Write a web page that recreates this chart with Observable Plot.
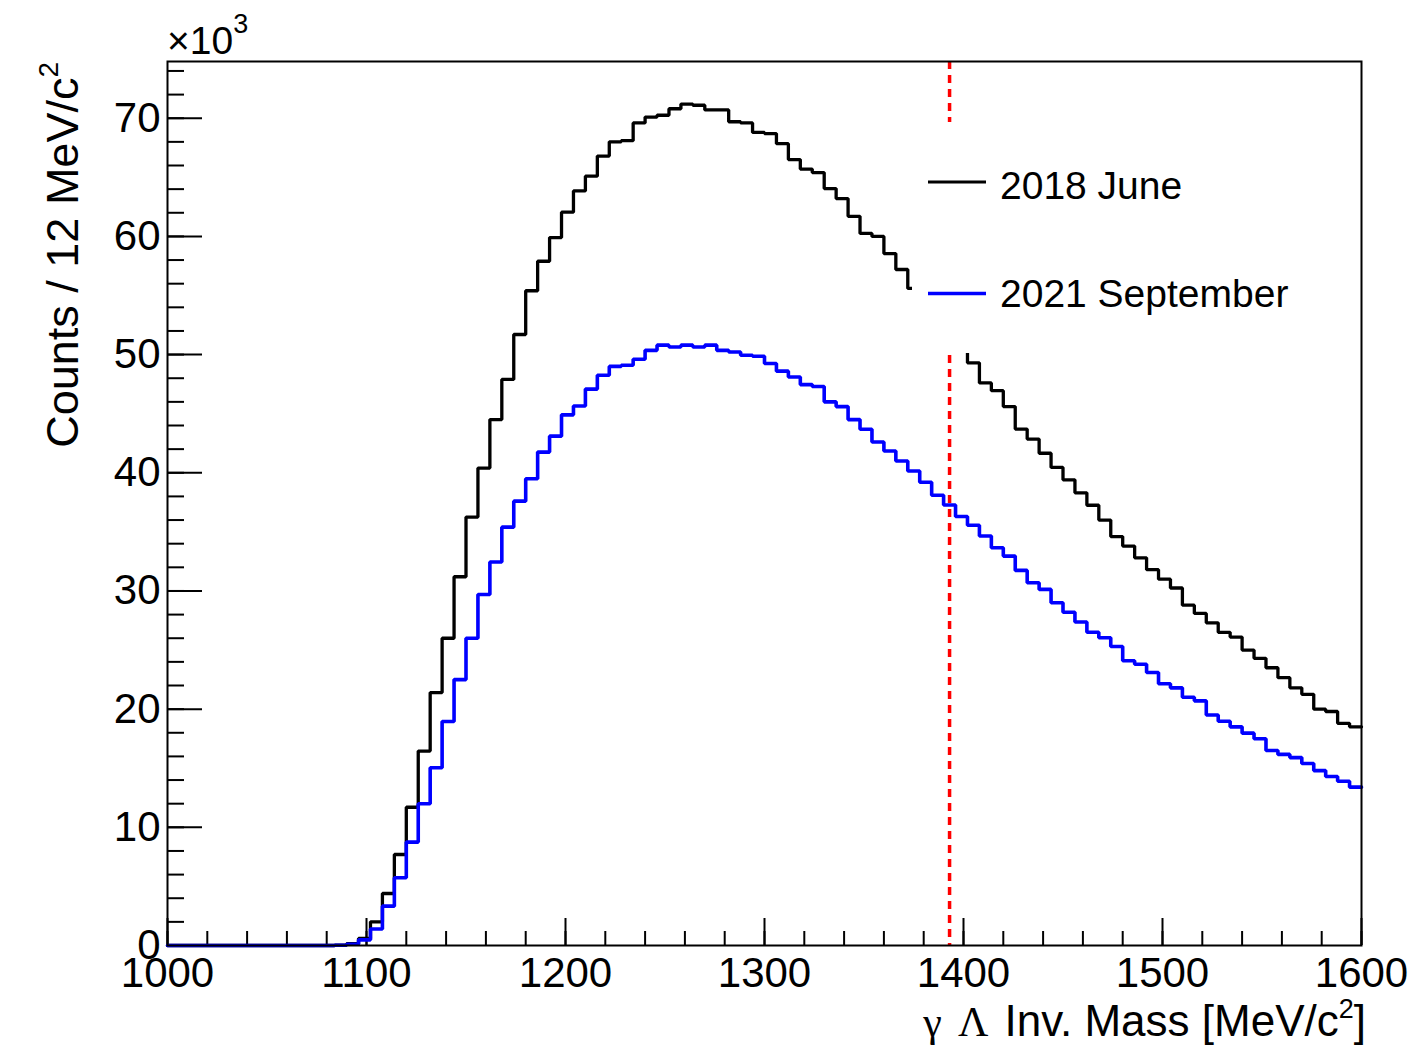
<!DOCTYPE html>
<html>
<head>
<meta charset="utf-8">
<script src="https://cdn.jsdelivr.net/npm/d3@7"></script>
<script src="https://cdn.jsdelivr.net/npm/@observablehq/plot@0.6"></script>
<style>
  body { margin: 0; background: #fff; }
  #wrap { position: relative; width: 1424px; height: 1048px; background: #fff; }
  #wrap > svg { position: absolute; left: 0; top: 0; }
  #overlay { pointer-events: none; font-family: "Liberation Sans", Arial, Helvetica, sans-serif; }
</style>
</head>
<body>
<div id="wrap"></div>
<script>
// ---- data (counts in units of 10^3 per bin) ----
const massRange = [1000, 1600];
const binWidth = 6;
const june2018 = [
  0, 0, 0, 0, 0, 0, 0, 0, 0, 0,
  0, 0, 0, 0, 0.03, 0.15, 0.6, 2.0, 4.4, 7.7,
  11.7, 16.45, 21.4, 26.0, 31.2, 36.25, 40.4, 44.5, 47.9, 51.7,
  55.4, 57.9, 59.9, 62.05, 63.85, 65.1, 66.8, 68.0, 68.1, 69.6,
  70.1, 70.25, 70.8, 71.2, 71.1, 70.7, 70.7, 69.7, 69.6, 68.8,
  68.7, 67.85, 66.5, 65.7, 65.4, 64.05, 63.2, 61.7, 60.25, 60.0,
  58.55, 57.2, 55.6, 54.4, 53.2, 52.0, 50.7, 49.3, 47.6, 46.95,
  45.6, 43.7, 42.85, 41.65, 40.45, 39.4, 38.3, 37.25, 36.0, 34.6,
  33.8, 32.8, 31.8, 31.0, 30.25, 28.8, 28.1, 27.3, 26.5, 26.1,
  25.0, 24.3, 23.5, 22.66, 21.8, 21.25, 20.0, 19.8, 18.8, 18.5
];
const sept2021 = [
  0, 0, 0, 0, 0, 0, 0, 0, 0, 0,
  0, 0, 0, 0, 0.02, 0.1, 0.48, 1.4, 3.33, 5.73,
  8.75, 12.0, 15.04, 18.96, 22.5, 26.0, 29.7, 32.45, 35.4, 37.6,
  39.5, 41.75, 43.1, 44.9, 45.65, 47.08, 48.25, 49.0, 49.1, 49.6,
  50.36, 50.8, 50.64, 50.8, 50.64, 50.8, 50.36, 50.22, 49.94, 49.86,
  49.24, 48.6, 48.1, 47.46, 47.3, 46.0, 45.6, 44.5, 43.68, 42.6,
  41.84, 41.0, 40.15, 39.2, 38.1, 37.27, 36.3, 35.56, 34.65, 33.66,
  32.95, 31.74, 30.7, 30.13, 29.0, 28.2, 27.37, 26.5, 26.04, 25.3,
  24.1, 23.8, 23.1, 22.15, 21.8, 21.0, 20.7, 19.5, 18.98, 18.5,
  17.97, 17.5, 16.5, 16.17, 15.9, 15.4, 14.8, 14.3, 13.9, 13.4
];
const seriesNames = ["2018 June", "2021 September"];
const seriesColors = ["#000000", "#0000ff"];
const xMajorTicks = [1000, 1100, 1200, 1300, 1400, 1500, 1600];
const xMinorTicks = d3.range(1000, 1601, 20);
const yMajorTicks = [0, 10, 20, 30, 40, 50, 60, 70];
const yMinorTicks = d3.range(0, 75, 2);
const yMax = 74.8;
const cutMass = 1393;

// ---- build step tables ----
const binLefts = d3.range(massRange[0], massRange[1], binWidth);
function stepTable(vals) {
  const t = binLefts.map((x, i) => ({x, y: vals[i]}));
  t.push({x: massRange[1], y: vals[vals.length - 1]});
  return t;
}

const W = 1424, H = 1048;
const mL = 167, mR = 63, mT = 61, mB = 103;
const innerW = W - mL - mR, innerH = H - mT - mB;

const chart = Plot.plot({
  width: W, height: H,
  marginLeft: mL, marginRight: mR, marginTop: mT, marginBottom: mB,
  style: {fontFamily: "'Liberation Sans', Arial, Helvetica, sans-serif", fontSize: "42px", background: "white", color: "black", overflow: "visible"},
  x: {domain: massRange},
  y: {domain: [0, yMax]},
  marks: [
    Plot.tickX(xMinorTicks, {x: d => d, insetTop: innerH - 14, stroke: "black", strokeWidth: 2}),
    Plot.tickX(xMajorTicks, {x: d => d, insetTop: innerH - 27, stroke: "black", strokeWidth: 2}),
    Plot.tickY(yMinorTicks, {y: d => d, insetRight: innerW - 17, stroke: "black", strokeWidth: 2}),
    Plot.tickY(yMajorTicks, {y: d => d, insetRight: innerW - 35, stroke: "black", strokeWidth: 2}),
    Plot.axisX({ticks: xMajorTicks, tickSize: 0, tickPadding: 12, fontSize: 42, label: null, tickFormat: d => String(d)}),
    Plot.axisY({ticks: yMajorTicks, tickSize: 0, tickPadding: 7, fontSize: 42, label: null, tickFormat: d => String(d)}),
    Plot.line(stepTable(june2018), {x: "x", y: "y", curve: "step-after", stroke: seriesColors[0], strokeWidth: 3.3, strokeLinejoin: "miter"}),
    Plot.line(stepTable(sept2021), {x: "x", y: "y", curve: "step-after", stroke: seriesColors[1], strokeWidth: 3.6, strokeLinejoin: "miter"}),
    Plot.ruleX([cutMass], {x: d => d, stroke: "#ff0000", strokeWidth: 3.5, strokeDasharray: "8,6"}),
    Plot.frame({stroke: "black", strokeWidth: 2})
  ]
});
const wrap = document.getElementById("wrap");
wrap.appendChild(chart);

// ---- overlay: titles, exponent, legend ----
const ns = "http://www.w3.org/2000/svg";
const ov = document.createElementNS(ns, "svg");
ov.setAttribute("id", "overlay");
ov.setAttribute("width", W);
ov.setAttribute("height", H);
ov.innerHTML = `
  <text x="167" y="54" font-size="39">×10<tspan font-size="27" dy="-21">3</tspan></text>
  <text transform="translate(78,62) rotate(-90)" text-anchor="end" font-size="45">Counts / 12 MeV/c<tspan font-size="28" dy="-20">2</tspan></text>
  <text x="1366" y="1036" text-anchor="end" font-size="44"><tspan font-family="'Liberation Serif', 'Times New Roman', serif" font-size="42" letter-spacing="4">γ Λ</tspan> Inv. Mass [MeV/c<tspan font-size="27" dy="-18">2</tspan><tspan dy="18">]</tspan></text>
  <rect x="912" y="122" width="400" height="231" fill="white"></rect>
  <line x1="928" x2="986" y1="182" y2="182" stroke="${seriesColors[0]}" stroke-width="3"></line>
  <line x1="928" x2="986" y1="293.5" y2="293.5" stroke="${seriesColors[1]}" stroke-width="3.5"></line>
  <text x="1000" y="199" font-size="39">${seriesNames[0]}</text>
  <text x="1000" y="307" font-size="39">${seriesNames[1]}</text>
`;
wrap.appendChild(ov);
</script>
</body>
</html>
